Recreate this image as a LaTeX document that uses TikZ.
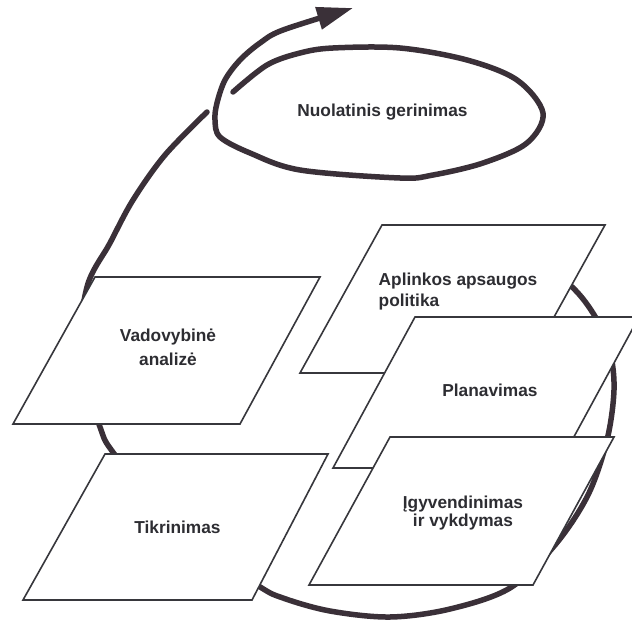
\documentclass[tikz,border=0pt]{standalone}
\usepackage{fontspec}
\setmainfont{Liberation Sans}
\usetikzlibrary{arrows.meta}
\definecolor{arcgray}{RGB}{58,48,56}
\definecolor{linegray}{RGB}{55,55,60}
\definecolor{txtgray}{RGB}{45,45,50}
\begin{document}
\begin{tikzpicture}[x=1pt,y=-1pt,
  panel/.style={draw=linegray, line width=1.6pt, fill=white, line join=miter},
  lbl/.style={text=txtgray, inner sep=0pt, font=\fontsize{17.3}{21}\selectfont\bfseries},
  cyc/.style={draw=arcgray, line width=5.5pt, line cap=round}]
\useasboundingbox (0,0) rectangle (632,621);
\fill[white] (0,0) rectangle (632,621);

% large cycle arc (behind the panels)
\draw[cyc] plot[smooth, tension=0.55] coordinates {(520,250) (570,285) (596,318) (610,352) (614,390) (607,440) (588,495) (555,545) (510,588) (450,609) (390,617) (330,611) (283,598) (257,585) (175,530) (115,455) (100,427) (80,357) (87,287) (110,243) (133,200) (165,155) (207,112)};

% improvement loop with arrow
\draw[cyc, -{Triangle[length=36pt,width=22pt]}] plot[smooth, tension=0.55] coordinates {(233,92) (267,65) (300,53) (333,48) (400,48) (467,60) (517,80) (543,113) (527,143) (483,163) (433,175) (400,178) (300,170) (250,153) (220,137) (215,120) (217,103) (225,80) (240,60) (260,43) (283,30) (353,8)};
\node[lbl] (nuo) at (382.5,112) {Nuolatinis gerinimas};

% panels
\draw[panel] (95,277) -- (320,277) -- (240,424) -- (13,424) -- cycle;
\node[lbl, align=center, font=\fontsize{17.3}{24}\selectfont\bfseries] (vad) at (168,347.5) {Vadovybinė\\analizė};

\draw[panel] (105,454) -- (328,454) -- (252,600) -- (23,600) -- cycle;
\node[lbl] (tik) at (177.5,527) {Tikrinimas};

\draw[panel] (382,225) -- (605,225) -- (523,373) -- (300,373) -- cycle;
\node[lbl, align=left, font=\fontsize{17.3}{21}\selectfont\bfseries] (apl) at (458,292) {Aplinkos apsaugos\\politika};

\draw[panel] (415,317) -- (639,317) -- (557,468) -- (333,468) -- cycle;
\node[lbl] (pla) at (490,390) {Planavimas};

\draw[panel] (390,437) -- (614,437) -- (533,585) -- (309,585) -- cycle;
\node[lbl, align=center, font=\fontsize{17.3}{18.5}\selectfont\bfseries] (igy) at (463,513) {Įgyvendinimas\\ir vykdymas};
\end{tikzpicture}
\end{document}
